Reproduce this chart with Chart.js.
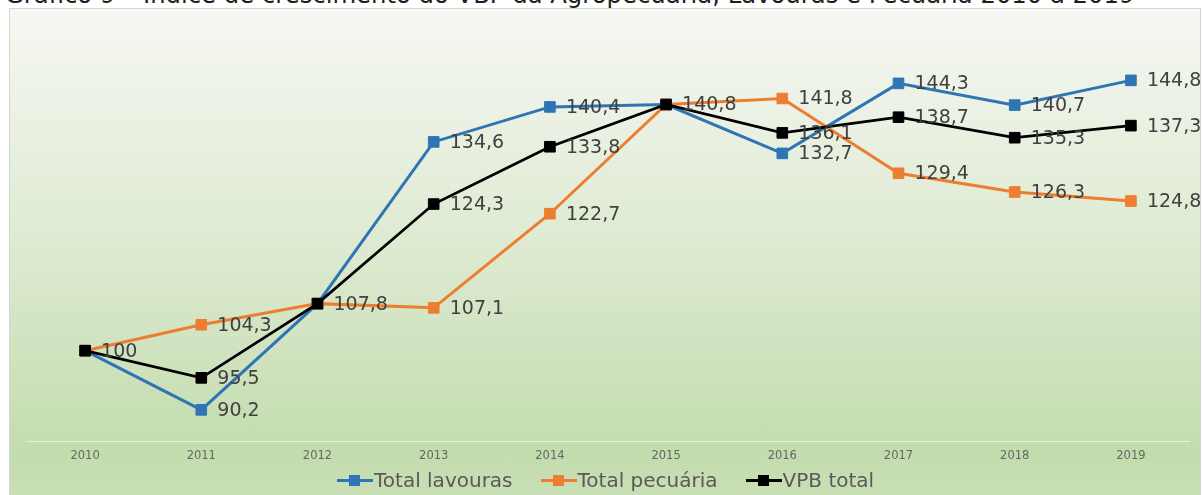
<!DOCTYPE html>
<html><head><meta charset="utf-8">
<script src="https://cdn.jsdelivr.net/npm/chart.js@4/dist/chart.umd.min.js"></script>
<style>
html,body{margin:0;padding:0;background:#fff;width:1203px;height:495px;overflow:hidden;font-family:"DejaVu Sans",sans-serif;}
#title{position:absolute;left:5px;top:-15px;font-size:21px;line-height:24px;color:#1e1e1e;white-space:nowrap;}
#frame{position:absolute;left:9px;top:8px;width:1190px;height:495px;border:1px solid #d5d8d0;border-bottom:none;
 background:linear-gradient(to bottom,#f6f8f3 0%,#eef3e8 15%,#dfebd3 45%,#cce1ba 75%,#c3dcad 90%,#c9e0b6 100%);}
#chartbox{position:absolute;left:0;top:0;width:1203px;height:495px;}
#legend{position:absolute;left:337px;top:468px;display:flex;align-items:center;font-size:20px;line-height:24px;color:#595959;white-space:nowrap;}
.item{display:flex;align-items:center;margin-right:28px;}
.mk{position:relative;width:36px;height:24px;margin-right:1px;}
.mk .ln{position:absolute;left:0;top:11px;width:36px;height:3px;}
.mk .sq{position:absolute;left:12px;top:7px;width:11px;height:11px;}
</style></head>
<body>
<div id="title">Gráfico 9 – Índice de crescimento do VBP da Agropecuária, Lavouras e Pecuária 2010 a 2019</div>
<div id="frame"></div>
<div id="chartbox"><canvas id="c" width="1203" height="495"></canvas></div>
<div id="legend"></div>
<script>
const years = ['2010','2011','2012','2013','2014','2015','2016','2017','2018','2019'];
const lavouras = [100, 90.2, 107.8, 134.6, 140.4, 140.8, 132.7, 144.3, 140.7, 144.8];
const pecuaria = [100, 104.3, 107.8, 107.1, 122.7, 140.8, 141.8, 129.4, 126.3, 124.8];
const vpbTotal = [100, 95.5, 107.8, 124.3, 133.8, 140.8, 136.1, 138.7, 135.3, 137.3];
const seriesNames = ['Total lavouras','Total pecuária','VPB total'];
const colors = ['#2F75B5','#ED7D31','#000000'];

(function(){
  const t=document.getElementById('title');
  const w=t.getBoundingClientRect().width;
  const f=21*1130/w;
  t.style.fontSize=f+'px';
  const L=24;
  const base=3.5;
  t.style.top=(base-((L-1.164*f)/2+0.928*f))+'px';
})();

const lg=document.getElementById('legend');
seriesNames.forEach((n,i)=>{
  const it=document.createElement('div');it.className='item';
  it.innerHTML='<div class="mk"><div class="ln" style="background:'+colors[i]+'"></div><div class="sq" style="background:'+colors[i]+'"></div></div><span>'+n+'</span>';
  lg.appendChild(it);
});

const fmt=v=>Number.isInteger(v)?String(v):v.toFixed(1).replace('.',',');

const labelPlugin={
  id:'vlabels',
  afterDatasetsDraw(chart){
    const ctx=chart.ctx;
    ctx.save();
    ctx.font='19px "DejaVu Sans"';
    ctx.fillStyle='#404040';
    ctx.textAlign='left';ctx.textBaseline='middle';
    const seen=new Set();
    chart.data.datasets.forEach((ds,i)=>{
      const meta=chart.getDatasetMeta(i);
      meta.data.forEach((pt,j)=>{
        const key=j+'|'+ds.data[j];
        if(seen.has(key))return;
        seen.add(key);
        ctx.fillText(fmt(ds.data[j]),pt.x+16,pt.y+1);
      });
    });
    ctx.restore();
  }
};

const mk=(label,data,color,bw,order)=>({label,data,borderColor:color,backgroundColor:color,borderWidth:bw,
  pointStyle:'rect',pointRadius:7.5,pointBorderWidth:1,pointBorderColor:color,pointBackgroundColor:color,tension:0,order,fill:false});

new Chart(document.getElementById('c'),{
  type:'line',
  data:{labels:years,datasets:[
    mk(seriesNames[0],lavouras,colors[0],3,3),
    mk(seriesNames[1],pecuaria,colors[1],3,2),
    mk(seriesNames[2],vpbTotal,colors[2],2.75,1)
  ]},
  options:{
    responsive:false,animation:false,devicePixelRatio:1,
    layout:{padding:{left:27,right:14,top:49,bottom:24}},
    plugins:{legend:{display:false},tooltip:{enabled:false}},
    scales:{
      x:{offset:true,grid:{display:false,drawTicks:false},
         border:{display:true,color:'rgba(255,255,255,0.6)',width:1},
         ticks:{color:'#666666',font:{size:11.5,family:'DejaVu Sans'},padding:8,maxRotation:0}},
      y:{display:false,min:85,max:150}
    }
  },
  plugins:[labelPlugin]
});
</script>
</body></html>
